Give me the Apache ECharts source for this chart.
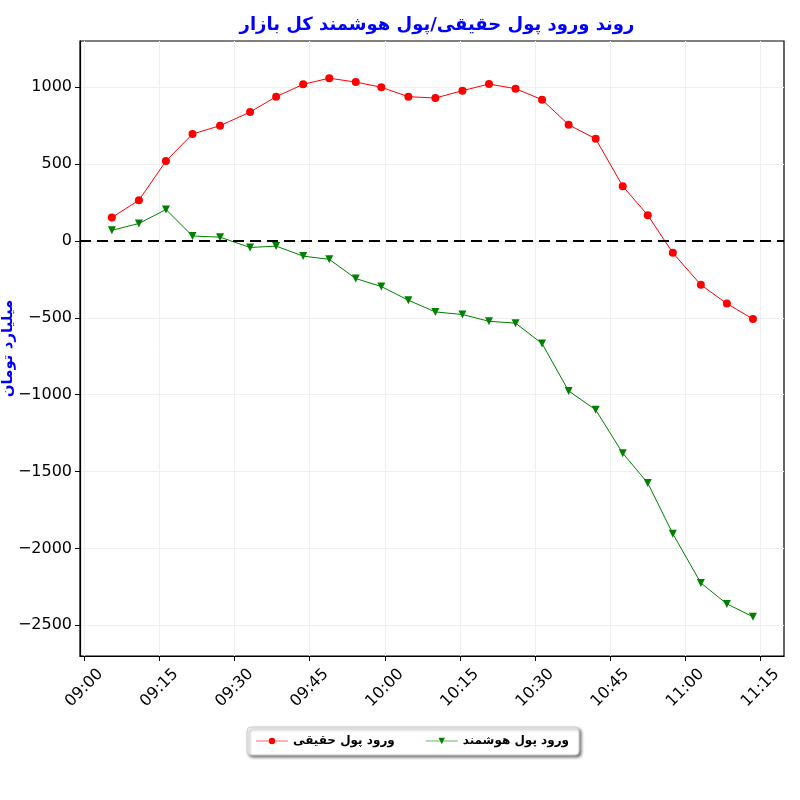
<!DOCTYPE html>
<html>
<head>
<meta charset="utf-8">
<script src="https://cdn.jsdelivr.net/npm/echarts@6/dist/echarts.min.js"></script>
<style>
html,body{margin:0;padding:0;background:#fff;}
#main{width:800px;height:800px;}
</style>
</head>
<body>
<div id="main"></div>
<script>
// زمان نمونه‌ها
var times = ['09:05:30','09:10:54','09:16:18','09:21:36','09:27:06','09:33:06','09:38:18','09:43:42','09:48:54',
    '09:54:12','09:59:18','10:04:42','10:10:06','10:15:30','10:20:48','10:26:06','10:31:24','10:36:42',
    '10:42:06','10:47:30','10:52:30','10:57:30','11:03:06','11:08:18','11:13:30'];
// ورود پول حقیقی
var realMoney = [152,264,519,695,749,838,938,1018,1058,1033,999,938,929,977,1020,990,918,755,
    664,356,167,-78,-286,-408,-508];
// ورود پول هوشمند
var smartMoney = [69,113,204,32,24,-43,-34,-99,-120,-245,-297,-386,-462,-479,-523,-535,-668,-976,
    -1099,-1381,-1575,-1905,-2225,-2361,-2445];
var xTicks = ['09:00','09:15','09:30','09:45','10:00','10:15','10:30','10:45','11:00','11:15'];
var yTicks = [-2500,-2000,-1500,-1000,-500,0,500,1000];

var seriesNames = ['ورود پول حقیقی','ورود پول هوشمند'];
var titleText = 'روند ورود پول حقیقی/پول هوشمند کل بازار';
var yName = 'میلیارد تومان';

var toMin = function(t){
    var p = t.split(':');
    return (parseInt(p[0])-9)*60 + parseInt(p[1]) + (p[2]?parseInt(p[2])/60:0);
}
var fmtTime = function(v){
    var h = 9 + Math.floor(Math.round(v)/60);
    var m = Math.round(v)%60;
    return (h<10?'0':'')+h+':'+(m<10?'0':'')+m;
}
var pairs = function(vals){
    var out = [];
    for(var i=0;i<times.length;i++){ out.push([toMin(times[i]), vals[i]]); }
    return out;
}

var chart = echarts.init(document.getElementById('main'));
var font = 'DejaVu Sans';
chart.setOption({
    animation:false,
    backgroundColor:'#fff',
    textStyle:{fontFamily:font},
    title:{
        text:titleText,
        left:432, top:11, textAlign:'center',
        textStyle:{color:'#0000ff',fontSize:18,fontWeight:'bold',fontFamily:font}
    },
    legend:{
        data:seriesNames,
        left:247, top:727,
        itemWidth:32, itemHeight:8, itemGap:30,
        padding:[8,10,8,8],
        backgroundColor:'#fff', borderColor:'#cccccc', borderWidth:1, borderRadius:4,
        shadowBlur:3, shadowColor:'rgba(0,0,0,0.5)', shadowOffsetX:2, shadowOffsetY:2,
        lineStyle:{opacity:0.3},
        textStyle:{color:'#000',fontSize:12,fontWeight:'bold',fontFamily:font}
    },
    grid:{left:80, right:16, top:41, bottom:144, outerBoundsMode:'none', containLabel:false,
        show:true, borderColor:'#000', borderWidth:1.2, backgroundColor:'#fff'},
    xAxis:{
        type:'value',
        min:-0.86, max:139.7,
        axisLine:{show:true,onZero:false,lineStyle:{color:'#000',width:1.2}},
        axisTick:{show:true,length:5,lineStyle:{color:'#000'},customValues:xTicks.map(toMin)},
        axisLabel:{
            customValues:xTicks.map(toMin),
            rotate:45, align:'center', verticalAlign:'middle', margin:32,
            fontSize:16, color:'#000', fontFamily:font,
            formatter:function(v){ return fmtTime(v); }
        },
        splitLine:{show:true,lineStyle:{color:'#f0f0f0',width:1}}
    },
    yAxis:{
        type:'value',
        min:-2700, max:1300,
        name:yName, nameLocation:'middle', nameGap:64, nameRotate:90, nameMoveOverlap:false,
        nameTextStyle:{color:'#0000ff',fontSize:15,fontWeight:'bold',fontFamily:font},
        axisLine:{show:true,onZero:false,lineStyle:{color:'#000',width:1.2}},
        axisTick:{show:true,length:5,lineStyle:{color:'#000'},customValues:yTicks},
        axisLabel:{
            customValues:yTicks, fontSize:16, color:'#000', margin:8, fontFamily:font,
            formatter:function(v){ return String(v).replace('-','\u2212'); }
        },
        splitLine:{show:true,lineStyle:{color:'#f0f0f0',width:1}}
    },
    series:[
        {
            name:seriesNames[0], type:'line',
            data:pairs(realMoney),
            symbol:'circle', symbolSize:8,
            itemStyle:{color:'#ff0000'},
            lineStyle:{color:'#ff0000',width:1},
            z:3,
            markLine:{
                silent:true, symbol:['none','none'],
                label:{show:false},
                lineStyle:{color:'#000',type:[11,6],width:2},
                data:[{yAxis:0}]
            }
        },
        {
            name:seriesNames[1], type:'line',
            data:pairs(smartMoney),
            symbol:'triangle', symbolRotate:180, symbolSize:8,
            itemStyle:{color:'#008000'},
            lineStyle:{color:'#008000',width:1},
            z:3
        }
    ]
});
</script>
</body>
</html>
